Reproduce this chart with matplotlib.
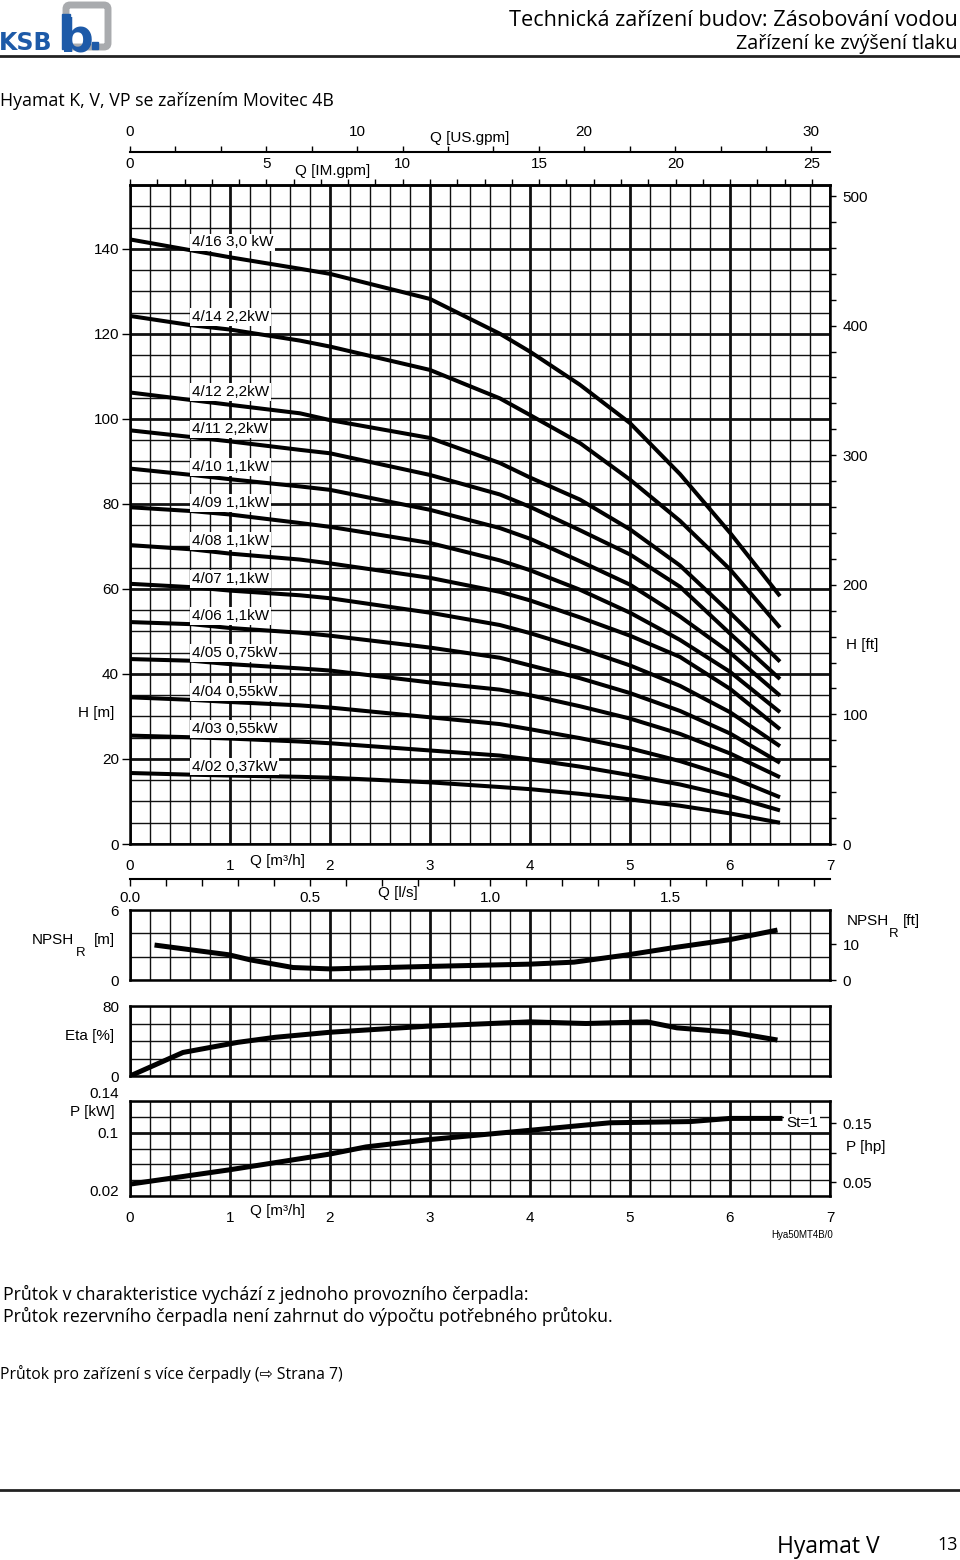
import numpy as np
import matplotlib
matplotlib.use("Agg")
import matplotlib.pyplot as plt
from matplotlib.patches import Rectangle, FancyBboxPatch

plt.rcParams['font.family'] = ['Liberation Sans', 'DejaVu Sans']

# ---- data ----
q_m3h = [0, 0.62, 1.0, 1.7, 2.0, 3.0, 3.7, 4.0, 4.5, 5.0, 5.5, 6.0, 6.5]

pump_labels = ['4/16 3,0 kW', '4/14 2,2kW', '4/12 2,2kW', '4/11 2,2kW', '4/10 1,1kW',
               '4/09 1,1kW', '4/08 1,1kW', '4/07 1,1kW', '4/06 1,1kW', '4/05 0,75kW',
               '4/04 0,55kW', '4/03 0,55kW', '4/02 0,37kW']
h_4_16 = [142.2, 139.6, 138.0, 135.3, 134.1, 128.2, 120.0, 115.8, 108.0, 99.0, 87.0, 73.2, 58.3]
h_4_14 = [124.2, 122.0, 121.0, 118.4, 117.0, 111.5, 104.8, 100.9, 94.3, 85.7, 76.0, 64.6, 50.9]
h_4_12 = [106.2, 104.4, 103.3, 101.3, 99.7, 95.5, 89.6, 86.2, 81.0, 74.0, 65.5, 54.4, 42.9]
h_4_11 = [97.3, 95.7, 94.7, 92.7, 91.9, 86.8, 82.2, 79.3, 73.8, 68.1, 60.5, 49.5, 38.8]
h_4_10 = [88.3, 86.8, 85.8, 84.1, 83.3, 78.6, 74.3, 71.8, 66.5, 61.0, 53.5, 45.0, 34.9]
h_4_09 = [79.2, 78.3, 77.5, 75.5, 74.6, 70.8, 66.7, 64.4, 59.8, 54.4, 48.0, 40.5, 31.0]
h_4_08 = [70.3, 69.3, 68.3, 66.9, 66.0, 62.6, 59.3, 57.3, 53.3, 49.0, 44.0, 36.5, 27.0]
h_4_07 = [61.2, 60.4, 59.6, 58.5, 57.8, 54.4, 51.5, 49.6, 46.0, 42.0, 37.2, 31.0, 23.0]
h_4_06 = [52.2, 51.7, 50.8, 49.7, 49.0, 46.2, 43.8, 42.0, 39.0, 35.5, 31.3, 26.0, 19.1]
h_4_05 = [43.5, 43.1, 42.3, 41.3, 40.8, 38.0, 36.3, 35.0, 32.4, 29.5, 25.9, 21.3, 15.7]
h_4_04 = [34.5, 33.9, 33.4, 32.6, 32.1, 29.8, 28.2, 27.0, 24.9, 22.5, 19.5, 15.8, 11.0]
h_4_03 = [25.5, 25.1, 24.8, 24.1, 23.7, 22.0, 20.8, 19.9, 18.2, 16.2, 14.0, 11.3, 7.9]
h_4_02 = [16.7, 16.3, 16.1, 15.8, 15.6, 14.5, 13.4, 12.9, 11.8, 10.5, 9.0, 7.2, 5.0]
heads = [h_4_16, h_4_14, h_4_12, h_4_11, h_4_10, h_4_09, h_4_08,
         h_4_07, h_4_06, h_4_05, h_4_04, h_4_03, h_4_02]

npsh_q = [0.27, 0.99, 1.2, 1.63, 2.0, 2.97, 4.0, 4.44, 4.98, 5.41, 6.0, 6.45]
npsh_m = [2.97, 2.16, 1.73, 1.07, 0.95, 1.16, 1.36, 1.53, 2.16, 2.74, 3.46, 4.24]

eta_q = [0, 0.53, 1.08, 1.45, 2.0, 2.97, 4.0, 4.56, 5.17, 5.47, 6.02, 6.45]
eta_pct = [0, 26.9, 38.5, 44.2, 50.0, 56.9, 61.9, 60.0, 61.9, 55.0, 50.0, 41.6]

p_q = [0, 0.99, 2.0, 2.36, 2.97, 4.0, 4.8, 5.6, 6.0, 6.5]
p_kw = [0.035, 0.053, 0.073, 0.082, 0.091, 0.103, 0.1125, 0.114, 0.118, 0.118]

# unit conversions
US_GPM = 4.4029
IM_GPM = 3.6662
LPS = 1 / 3.6
FT = 0.3048
HP = 0.7457

W, H = 960, 1560
fig = plt.figure(figsize=(W / 100, H / 100), dpi=100)


def rect(l, t, r, b):
    return [l / W, 1 - b / H, (r - l) / W, max(b - t, 0.01) / H]


def ftext(x, y, s, **kw):
    fig.text(x / W, 1 - y / H, s, **kw)


FS = 11
GRID_C = '#111111'


def grid(ax, ysteps, ythick):
    for i in range(36):
        q = i * 0.2
        ax.axvline(q, color=GRID_C, lw=2.0 if i % 5 == 0 else 1.0, zorder=1)
    for y in ysteps:
        ax.axhline(y, color=GRID_C, lw=2.0 if y in ythick else 1.0, zorder=1)
    ax.set_xlim(0, 7)
    for s in ax.spines.values():
        s.set_linewidth(1.8)


# ---- header ----
ax_logo = fig.add_axes(rect(0, 0, 115, 54))
ax_logo.set_xlim(0, 115)
ax_logo.set_ylim(54, 0)
ax_logo.axis('off')
ax_logo.add_patch(FancyBboxPatch((66, 5), 42, 42, boxstyle='round,pad=0,rounding_size=4',
                                 fill=False, ec='#a9abae', lw=5))
ax_logo.add_patch(Rectangle((62, 14), 8, 35, color='#1d5aa8'))
ax_logo.text(60, 51, 'b', color='#1d5aa8', fontsize=34, fontweight='bold',
             family='DejaVu Sans', va='baseline', ha='left')
ax_logo.add_patch(Rectangle((92, 42), 6, 7, color='#1d5aa8'))
ax_logo.text(-1, 50, 'KSB', color='#1d5aa8', fontsize=17, fontweight='bold',
             family='DejaVu Sans', va='baseline', ha='left')

HF = ['Open Sans', 'DejaVu Sans']
ftext(958, 20, 'Technická zařízení budov: Zásobování vodou', ha='right', va='center',
      fontsize=15.6, family=HF)
ftext(958, 44, 'Zařízení ke zvýšení tlaku', ha='right', va='center',
      fontsize=14.2, family=HF)
fig.add_artist(plt.Line2D([0, 1], [1 - 56 / H, 1 - 56 / H], color='#222222', lw=2))
ftext(0, 101, 'Hyamat K, V, VP se zařízením Movitec 4B', ha='left', va='center',
      fontsize=12.8, family=HF)

# ---- main Q-H chart ----
ax = fig.add_axes(rect(130, 185, 830, 844))
grid(ax, list(range(0, 156, 5)), list(range(0, 156, 20)))
ax.set_ylim(0, 155)
for lab, h in zip(pump_labels, heads):
    ax.plot(q_m3h, h, color='black', lw=2.9, solid_capstyle='butt',
            solid_joinstyle='round', zorder=3)
    ax.text(0.62, h[1] + 1.9, lab, fontsize=FS, ha='left', va='center', zorder=5,
            bbox=dict(boxstyle='square,pad=0.12', fc='white', ec='none'))
ax.set_yticks(range(0, 141, 20))
ax.set_xticks(range(8))
ax.tick_params(axis='y', direction='out', length=6, width=1, pad=2, labelsize=FS)
ax.tick_params(axis='x', length=0, pad=11, labelsize=FS)

axr = ax.twinx()
axr.set_ylim(0, 155 / FT)
axr.set_yticks(range(0, 501, 100))
axr.set_yticks(range(0, 501, 20), minor=True)
axr.tick_params(axis='y', which='both', direction='out', length=4, width=1, pad=5, labelsize=FS)
for s in axr.spines.values():
    s.set_visible(False)

top_im = ax.secondary_xaxis('top', functions=(lambda q: q * IM_GPM, lambda g: g / IM_GPM))
top_im.set_xticks(range(0, 26, 5))
top_im.set_xticks(range(0, 26), minor=True)
top_im.tick_params(which='both', direction='out', length=4, width=1, pad=6, labelsize=FS)
top_im.spines['top'].set_linewidth(1.8)

ax_us = fig.add_axes([130 / W, 1 - 152 / H, 700 / W, 1e-6])
ax_us.set_xlim(0, 7 * US_GPM)
ax_us.set_yticks([])
for k in ['left', 'right', 'bottom']:
    ax_us.spines[k].set_visible(False)
ax_us.spines['top'].set_linewidth(1.5)
ax_us.xaxis.tick_top()
ax_us.set_xticks([0, 10, 20, 30])
ax_us.set_xticks(range(0, 31, 2), minor=True)
ax_us.tick_params(which='both', direction='out', length=4, width=1, pad=5, labelsize=FS)

ax_ls = fig.add_axes([130 / W, 1 - 879 / H, 700 / W, 1e-6])
ax_ls.set_xlim(0, 7 * LPS)
ax_ls.set_yticks([])
for k in ['left', 'right', 'top']:
    ax_ls.spines[k].set_visible(False)
ax_ls.spines['bottom'].set_linewidth(1.5)
ax_ls.set_xticks([0, 0.5, 1.0, 1.5])
ax_ls.set_xticklabels(['0.0', '0.5', '1.0', '1.5'])
ax_ls.set_xticks(np.arange(0, 1.95, 0.1), minor=True)
ax_ls.tick_params(which='both', direction='out', length=5, width=1, pad=4, labelsize=FS)

ftext(470, 138, 'Q [US.gpm]', ha='center', va='center', fontsize=FS)
ftext(333, 171, 'Q [IM.gpm]', ha='center', va='center', fontsize=FS)
ftext(278, 861, 'Q [m³/h]', ha='center', va='center', fontsize=FS)
ftext(398, 893, 'Q [l/s]', ha='center', va='center', fontsize=FS)
ftext(96, 713, 'H [m]', ha='center', va='center', fontsize=FS)
ftext(862, 645, 'H [ft]', ha='center', va='center', fontsize=FS)

# ---- NPSH ----
ax_n = fig.add_axes(rect(130, 910, 830, 980))
grid(ax_n, [0, 2, 4, 6], [])
ax_n.set_ylim(0, 6)
ax_n.plot(npsh_q, npsh_m, color='black', lw=3.6, zorder=3)
ax_n.set_yticks([0, 6])
ax_n.set_xticks([])
ax_n.tick_params(axis='y', length=0, pad=8, labelsize=FS)
axn_r = ax_n.twinx()
axn_r.set_ylim(0, 6 / FT)
axn_r.set_yticks([0, 10])
axn_r.tick_params(axis='y', direction='out', length=4, width=1, pad=5, labelsize=FS)
for s in axn_r.spines.values():
    s.set_visible(False)
ftext(53, 940, 'NPSH', ha='center', va='center', fontsize=FS)
ftext(81, 953, 'R', ha='center', va='center', fontsize=FS - 1.5)
ftext(104, 940, '[m]', ha='center', va='center', fontsize=FS)
ftext(868, 921, 'NPSH', ha='center', va='center', fontsize=FS)
ftext(894, 934, 'R', ha='center', va='center', fontsize=FS - 1.5)
ftext(911, 921, '[ft]', ha='center', va='center', fontsize=FS)

# ---- efficiency ----
ax_e = fig.add_axes(rect(130, 1006, 830, 1076))
grid(ax_e, [0, 20, 40, 60, 80], [])
ax_e.set_ylim(0, 80)
ax_e.plot(eta_q, eta_pct, color='black', lw=3.6, zorder=3)
ax_e.set_yticks([0, 80])
ax_e.set_xticks([])
ax_e.tick_params(axis='y', length=0, pad=8, labelsize=FS)
ftext(90, 1036, 'Eta [%]', ha='center', va='center', fontsize=FS)

# ---- power ----
ax_p = fig.add_axes(rect(130, 1101, 830, 1196))
grid(ax_p, [0.02, 0.04, 0.06, 0.08, 0.10, 0.12, 0.14], [0.10])
ax_p.set_ylim(0.02, 0.14)
ax_p.plot(p_q, p_kw, color='black', lw=3.6, zorder=3)
ax_p.text(6.72, 0.112, 'St=1', fontsize=FS, ha='center', va='center', zorder=5,
          bbox=dict(boxstyle='square,pad=0.15', fc='white', ec='none'))
ax_p.set_yticks([0.02, 0.1, 0.14])
ax_p.set_yticklabels(['0.02', '0.1', '0.14'])
ax_p.set_xticks(range(8))
ax_p.tick_params(axis='y', length=0, pad=8, labelsize=FS)
ax_p.tick_params(axis='x', length=0, pad=11, labelsize=FS)
for lbl in ax_p.get_yticklabels():
    if lbl.get_text() == '0.14':
        lbl.set_va('bottom')
    if lbl.get_text() == '0.02':
        lbl.set_va('baseline')
axp_r = ax_p.twinx()
axp_r.set_ylim(0.02 / HP, 0.14 / HP)
axp_r.set_yticks([0.05, 0.1, 0.15])
axp_r.set_yticklabels(['0.05', '', '0.15'])
axp_r.tick_params(axis='y', direction='out', length=4, width=1, pad=5, labelsize=FS)
for s in axp_r.spines.values():
    s.set_visible(False)
ftext(92, 1112, 'P [kW]', ha='center', va='center', fontsize=FS)
ftext(866, 1147, 'P [hp]', ha='center', va='center', fontsize=FS)
ftext(278, 1211, 'Q [m³/h]', ha='center', va='center', fontsize=FS)
ftext(833, 1235, 'Hya50MT4B/0', ha='right', va='center', fontsize=7)

# ---- footer ----
ftext(3, 1294, 'Průtok v charakteristice vychází z jednoho provozního čerpadla:',
      ha='left', va='center', fontsize=12.8, family=HF)
ftext(3, 1316, 'Průtok rezervního čerpadla není zahrnut do výpočtu potřebného průtoku.',
      ha='left', va='center', fontsize=12.8, family=HF)
ftext(0, 1374, 'Průtok pro zařízení s více čerpadly (⇨ Strana 7)',
      ha='left', va='center', fontsize=11.3, family=HF)
fig.add_artist(plt.Line2D([0, 1], [1 - 1490 / H, 1 - 1490 / H], color='#222222', lw=2))
ftext(880, 1547, 'Hyamat V', ha='right', va='center', fontsize=16.5, family=HF)
ftext(958, 1545, '13', ha='right', va='center', fontsize=13, family=HF)

fig.savefig('out.png', dpi=100)
